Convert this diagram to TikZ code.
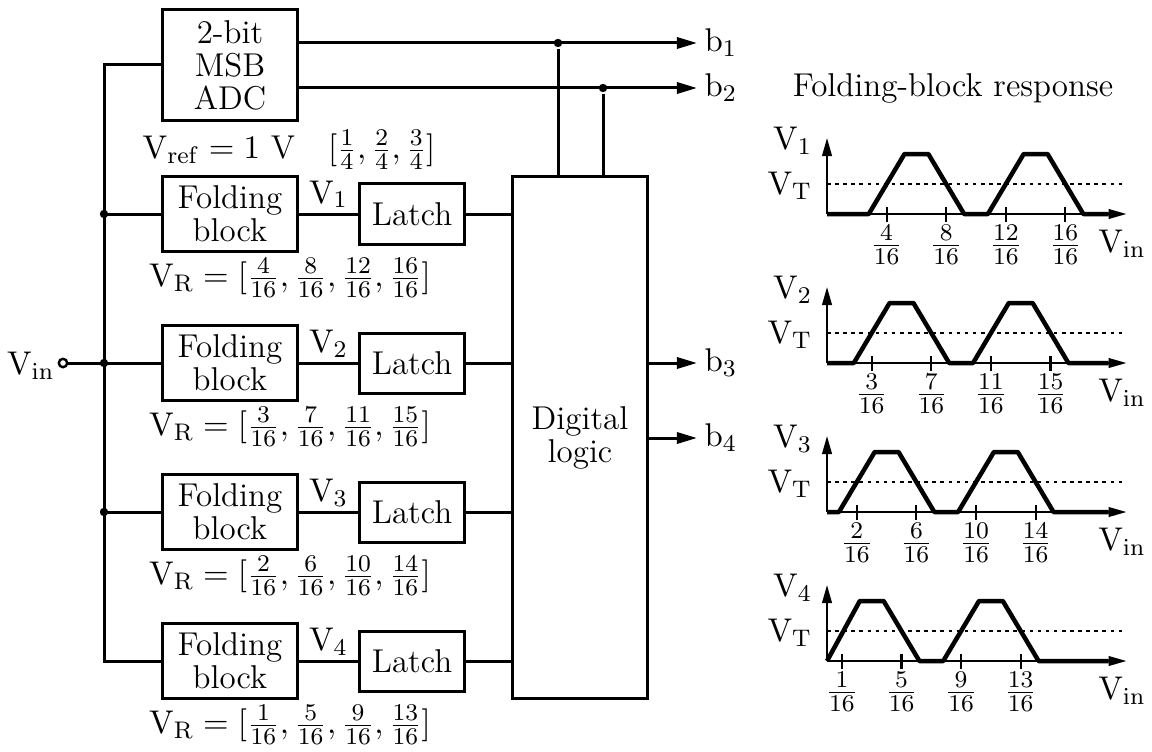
\documentclass[tikz,border=0pt]{standalone}
\usepackage{amsmath}
\usetikzlibrary{arrows.meta}

\begin{document}
\begin{tikzpicture}[x=0.3333pt,y=-0.3333pt,
  font=\fontsize{11}{11}\selectfont, line width=1pt,
  block/.style={draw,line width=1pt,align=center,inner sep=0pt,
                minimum width=45pt,minimum height=24.7pt},
  latch/.style={draw,line width=1pt,inner sep=0pt,minimum width=35pt,minimum height=20pt},
  arr/.style={-{Triangle[length=6.7pt,width=3.7pt]}},
  dot/.style={circle,fill,inner sep=0pt,minimum size=2.8pt},
  term/.style={circle,draw,fill=white,line width=0.8pt,inner sep=0pt,minimum size=2.8pt},
  axis/.style={line width=0.7pt,-{Triangle[length=6pt,width=3.2pt]}},
  wave/.style={line width=1.5pt,line join=round},
  tick/.style={line width=0.7pt},
  vt/.style={line width=0.5pt,dash pattern=on 1.2pt off 1.5pt}]

  \useasboundingbox (0,0) rectangle (1152,751);

  % coarse MSB converter
  \node[block,minimum height=37.3pt] (adc) at (230,65) {2-bit\\MSB\\ADC};
  \node (vref) at (289,150) {$\mathrm{V_{ref}}=1$ V\quad$[\frac{1}{4},\frac{2}{4},\frac{3}{4}]$};

  % folding blocks and latches
  \node[block] (fb1) at (230,214) {Folding\\block};
  \node[block] (fb2) at (230,363) {Folding\\block};
  \node[block] (fb3) at (230,512) {Folding\\block};
  \node[block] (fb4) at (230,661) {Folding\\block};
  \node[latch] (la1) at (412,214) {Latch};
  \node[latch] (la2) at (412,363) {Latch};
  \node[latch] (la3) at (412,512) {Latch};
  \node[latch] (la4) at (412,661) {Latch};
  \node (vr1) at (290,278) {$\mathrm{V_R}=[\frac{4}{16},\frac{8}{16},\frac{12}{16},\frac{16}{16}]$};
  \node (vr2) at (290,427) {$\mathrm{V_R}=[\frac{3}{16},\frac{7}{16},\frac{11}{16},\frac{15}{16}]$};
  \node (vr3) at (290,576) {$\mathrm{V_R}=[\frac{2}{16},\frac{6}{16},\frac{10}{16},\frac{14}{16}]$};
  \node (vr4) at (290,725) {$\mathrm{V_R}=[\frac{1}{16},\frac{5}{16},\frac{9}{16},\frac{13}{16}]$};
  \node[block,minimum height=173.7pt] (logic) at (580,437.5) {Digital\\logic};

  \draw (fb1) -- node[above,inner sep=1.5pt] (v1) {$\mathrm{V}_1$} (la1);
  \draw (fb2) -- node[above,inner sep=1.5pt] (v2) {$\mathrm{V}_2$} (la2);
  \draw (fb3) -- node[above,inner sep=1.5pt] (v3) {$\mathrm{V}_3$} (la3);
  \draw (fb4) -- node[above,inner sep=1.5pt] (v4) {$\mathrm{V}_4$} (la4);
  \draw (la1.east) -- (la1.east -| logic.west);
  \draw (la2.east) -- (la2.east -| logic.west);
  \draw (la3.east) -- (la3.east -| logic.west);
  \draw (la4.east) -- (la4.east -| logic.west);

  % input bus
  \coordinate (j1) at (104,214); \coordinate (j2) at (104,363);
  \coordinate (j3) at (104,512); \coordinate (j4) at (104,661);
  \node[term] (vin) at (63,363) {};
  \node[anchor=east,inner sep=1pt] (vinlab) at (59,366) {$\mathrm{V_{in}}$};
  \draw (adc.west) -| (j4) -- (fb4.west);
  \draw (j1) -- (fb1.west); \draw (j3) -- (fb3.west);
  \draw (vin) -- (fb2.west);
  \node[dot] (d1) at (j1) {}; \node[dot] (d2) at (j2) {}; \node[dot] (d3) at (j3) {};

  % outputs
  \node[anchor=west,inner sep=2pt] (b1) at (697,43) {$\mathrm{b}_1$};
  \node[anchor=west,inner sep=2pt] (b2) at (697,88) {$\mathrm{b}_2$};
  \node[anchor=west,inner sep=2pt] (b3) at (697,363) {$\mathrm{b}_3$};
  \node[anchor=west,inner sep=2pt] (b4) at (697,438) {$\mathrm{b}_4$};
  \draw[arr] (adc.east |- b1) -- (b1.west);
  \draw[arr] (adc.east |- b2) -- (b2.west);
  \draw[arr] (logic.east |- b3) -- (b3.west);
  \draw[arr] (logic.east |- b4) -- (b4.west);
  \node[dot] (t1) at (558,43) {}; \node[dot] (t2) at (603,88) {};
  \draw (t1) -- (t1 |- logic.north);
  \draw (t2) -- (t2 |- logic.north);

  % folding responses
  \node (title) at (953,88) {Folding-block response};
  \foreach \a/\r [count=\i] in {4/214,3/363,2/512,1/661}{
    \begin{scope}[shift={(827,\r)},xscale=14.9]
      \draw[vt] (0,-30) -- (20,-30);
      \draw[axis] (0,0) -- (20.1,0);
      \draw[axis] (0,0) -- (0,-76);
      \draw[wave] (0,0) -- ({max(\a-1.2,0)},0) -- (\a+1.2,-60) -- (\a+2.8,-60)
        -- (\a+5.2,0) -- (\a+6.8,0) -- (\a+9.2,-60) -- (\a+10.8,-60)
        -- (\a+13.2,0) -- (18.9,0);
      \foreach \k in {0,4,8,12}{
        \pgfmathtruncatemacro\n{\a+\k}
        \draw[tick] (\n,-7) -- (\n,8);
        \node (f\i\n) at (\n,31) {$\frac{\n}{16}$};
      }
      \node[anchor=east,inner sep=2pt] (vl\i) at (-0.5,-73) {$\mathrm{V}_\i$};
      \node[anchor=east,inner sep=2pt] (vt\i) at (-0.5,-28) {$\mathrm{V_T}$};
      \node (vx\i) at (19.8,30) {$\mathrm{V_{in}}$};
    \end{scope}
  }
\end{tikzpicture}
\end{document}
